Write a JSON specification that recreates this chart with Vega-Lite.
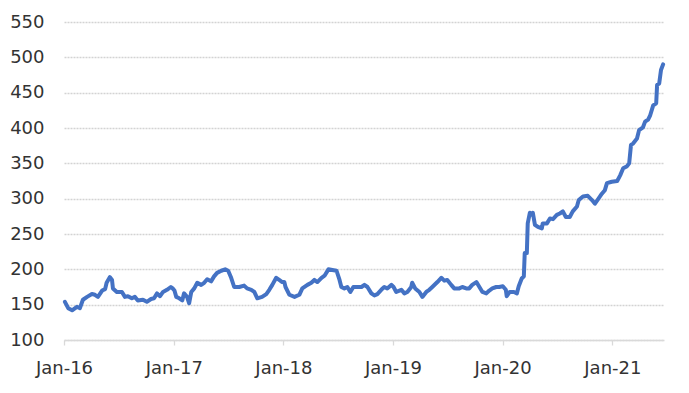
{
  "$schema": "https://vega.github.io/schema/vega-lite/v6.json",
  "width": 600,
  "height": 318,
  "autosize": {"type": "none"},
  "padding": {"left": 64, "top": 22, "right": 25, "bottom": 53},
  "background": "white",
  "config": {"view": {"stroke": null}},
  "data": {"values": [
    {"date": "2016-01-04", "v": 154}, {"date": "2016-01-15", "v": 145}, {"date": "2016-01-28", "v": 142}, {"date": "2016-02-13", "v": 147},
    {"date": "2016-02-23", "v": 145}, {"date": "2016-03-04", "v": 157}, {"date": "2016-03-18", "v": 161}, {"date": "2016-04-03", "v": 165},
    {"date": "2016-04-13", "v": 164}, {"date": "2016-04-23", "v": 161}, {"date": "2016-05-07", "v": 170}, {"date": "2016-05-17", "v": 172},
    {"date": "2016-05-22", "v": 181}, {"date": "2016-06-02", "v": 189}, {"date": "2016-06-09", "v": 185}, {"date": "2016-06-12", "v": 173},
    {"date": "2016-06-25", "v": 168}, {"date": "2016-07-12", "v": 168}, {"date": "2016-07-22", "v": 161}, {"date": "2016-08-01", "v": 162},
    {"date": "2016-08-14", "v": 159}, {"date": "2016-08-24", "v": 161}, {"date": "2016-09-03", "v": 156}, {"date": "2016-09-20", "v": 157},
    {"date": "2016-10-03", "v": 154}, {"date": "2016-10-17", "v": 158}, {"date": "2016-10-27", "v": 159}, {"date": "2016-11-06", "v": 166},
    {"date": "2016-11-16", "v": 162}, {"date": "2016-11-26", "v": 168}, {"date": "2016-12-09", "v": 171}, {"date": "2016-12-22", "v": 175},
    {"date": "2016-12-28", "v": 173}, {"date": "2017-01-03", "v": 170}, {"date": "2017-01-09", "v": 161}, {"date": "2017-01-19", "v": 159},
    {"date": "2017-01-29", "v": 156}, {"date": "2017-02-04", "v": 166}, {"date": "2017-02-14", "v": 161}, {"date": "2017-02-21", "v": 152},
    {"date": "2017-02-28", "v": 168}, {"date": "2017-03-10", "v": 173}, {"date": "2017-03-20", "v": 181}, {"date": "2017-04-02", "v": 178},
    {"date": "2017-04-12", "v": 181}, {"date": "2017-04-22", "v": 186}, {"date": "2017-05-05", "v": 183}, {"date": "2017-05-15", "v": 190},
    {"date": "2017-05-25", "v": 195}, {"date": "2017-06-08", "v": 198}, {"date": "2017-06-21", "v": 200}, {"date": "2017-07-01", "v": 198},
    {"date": "2017-07-11", "v": 188}, {"date": "2017-07-21", "v": 175}, {"date": "2017-08-07", "v": 175}, {"date": "2017-08-23", "v": 177},
    {"date": "2017-09-02", "v": 173}, {"date": "2017-09-16", "v": 171}, {"date": "2017-09-26", "v": 168}, {"date": "2017-10-06", "v": 159},
    {"date": "2017-10-22", "v": 161}, {"date": "2017-11-05", "v": 165}, {"date": "2017-11-15", "v": 171}, {"date": "2017-11-25", "v": 178},
    {"date": "2017-12-08", "v": 188}, {"date": "2017-12-18", "v": 185}, {"date": "2017-12-28", "v": 182}, {"date": "2018-01-04", "v": 182},
    {"date": "2018-01-08", "v": 175}, {"date": "2018-01-21", "v": 164}, {"date": "2018-02-07", "v": 161}, {"date": "2018-02-23", "v": 164},
    {"date": "2018-03-05", "v": 173}, {"date": "2018-03-22", "v": 178}, {"date": "2018-04-04", "v": 181}, {"date": "2018-04-14", "v": 185},
    {"date": "2018-04-24", "v": 182}, {"date": "2018-05-08", "v": 188}, {"date": "2018-05-18", "v": 191}, {"date": "2018-05-31", "v": 200},
    {"date": "2018-06-13", "v": 199}, {"date": "2018-06-27", "v": 198}, {"date": "2018-07-07", "v": 185}, {"date": "2018-07-13", "v": 175},
    {"date": "2018-07-23", "v": 173}, {"date": "2018-08-02", "v": 175}, {"date": "2018-08-12", "v": 168}, {"date": "2018-08-22", "v": 175},
    {"date": "2018-09-04", "v": 175}, {"date": "2018-09-18", "v": 175}, {"date": "2018-09-28", "v": 178}, {"date": "2018-10-08", "v": 175},
    {"date": "2018-10-21", "v": 166}, {"date": "2018-10-31", "v": 163}, {"date": "2018-11-10", "v": 165}, {"date": "2018-11-23", "v": 171},
    {"date": "2018-12-03", "v": 175}, {"date": "2018-12-13", "v": 173}, {"date": "2018-12-27", "v": 178}, {"date": "2019-01-03", "v": 175},
    {"date": "2019-01-12", "v": 168}, {"date": "2019-01-29", "v": 171}, {"date": "2019-02-08", "v": 166}, {"date": "2019-02-18", "v": 168},
    {"date": "2019-03-03", "v": 175}, {"date": "2019-03-06", "v": 181}, {"date": "2019-03-16", "v": 173}, {"date": "2019-03-30", "v": 168},
    {"date": "2019-04-09", "v": 161}, {"date": "2019-04-22", "v": 168}, {"date": "2019-05-02", "v": 171}, {"date": "2019-05-12", "v": 175},
    {"date": "2019-05-29", "v": 182}, {"date": "2019-06-11", "v": 188}, {"date": "2019-06-21", "v": 184}, {"date": "2019-07-01", "v": 185},
    {"date": "2019-07-14", "v": 178}, {"date": "2019-07-24", "v": 173}, {"date": "2019-08-10", "v": 173}, {"date": "2019-08-20", "v": 175},
    {"date": "2019-09-02", "v": 173}, {"date": "2019-09-12", "v": 173}, {"date": "2019-09-22", "v": 178}, {"date": "2019-10-06", "v": 182},
    {"date": "2019-10-16", "v": 175}, {"date": "2019-10-26", "v": 168}, {"date": "2019-11-08", "v": 166}, {"date": "2019-11-18", "v": 170},
    {"date": "2019-11-28", "v": 173}, {"date": "2019-12-11", "v": 175}, {"date": "2019-12-21", "v": 175}, {"date": "2020-01-02", "v": 176},
    {"date": "2020-01-12", "v": 171}, {"date": "2020-01-15", "v": 162}, {"date": "2020-01-25", "v": 168}, {"date": "2020-02-08", "v": 168},
    {"date": "2020-02-18", "v": 166}, {"date": "2020-02-24", "v": 176}, {"date": "2020-03-05", "v": 187}, {"date": "2020-03-12", "v": 190},
    {"date": "2020-03-15", "v": 223}, {"date": "2020-03-22", "v": 223}, {"date": "2020-03-25", "v": 265}, {"date": "2020-04-01", "v": 280},
    {"date": "2020-04-08", "v": 277}, {"date": "2020-04-11", "v": 280}, {"date": "2020-04-18", "v": 263}, {"date": "2020-04-28", "v": 260},
    {"date": "2020-05-11", "v": 258}, {"date": "2020-05-14", "v": 265}, {"date": "2020-05-28", "v": 265}, {"date": "2020-06-07", "v": 272},
    {"date": "2020-06-17", "v": 271}, {"date": "2020-06-30", "v": 277}, {"date": "2020-07-10", "v": 279}, {"date": "2020-07-20", "v": 282},
    {"date": "2020-07-30", "v": 274}, {"date": "2020-08-12", "v": 274}, {"date": "2020-08-22", "v": 282}, {"date": "2020-09-05", "v": 289},
    {"date": "2020-09-11", "v": 298}, {"date": "2020-09-25", "v": 303}, {"date": "2020-10-11", "v": 304}, {"date": "2020-10-25", "v": 298},
    {"date": "2020-11-04", "v": 293}, {"date": "2020-11-14", "v": 299}, {"date": "2020-11-27", "v": 307}, {"date": "2020-12-07", "v": 312},
    {"date": "2020-12-14", "v": 322}, {"date": "2020-12-30", "v": 324}, {"date": "2021-01-17", "v": 325}, {"date": "2021-01-27", "v": 333},
    {"date": "2021-02-06", "v": 343}, {"date": "2021-02-19", "v": 346}, {"date": "2021-02-26", "v": 350}, {"date": "2021-03-04", "v": 376},
    {"date": "2021-03-11", "v": 378}, {"date": "2021-03-24", "v": 385}, {"date": "2021-03-31", "v": 397}, {"date": "2021-04-13", "v": 401},
    {"date": "2021-04-20", "v": 409}, {"date": "2021-04-30", "v": 412}, {"date": "2021-05-07", "v": 418}, {"date": "2021-05-17", "v": 432},
    {"date": "2021-05-27", "v": 435}, {"date": "2021-05-30", "v": 461}, {"date": "2021-06-06", "v": 463}, {"date": "2021-06-12", "v": 482},
    {"date": "2021-06-19", "v": 490}
  ]},
  "mark": {"type": "line", "color": "#4472C4", "strokeWidth": 4, "strokeJoin": "round", "strokeCap": "round", "clip": false},
  "encoding": {
    "x": {
      "field": "date", "type": "temporal",
      "scale": {"domain": ["2016-01-01", "2021-06-22"]},
      "axis": {
        "title": null,
        "values": ["2016-01-01", "2017-01-01", "2018-01-01", "2019-01-01", "2020-01-01", "2021-01-01"],
        "format": "%b-%y",
        "grid": false,
        "domain": true, "domainColor": "#D9D9D9", "domainWidth": 1.3,
        "ticks": true, "tickColor": "#D9D9D9", "tickSize": 5, "tickWidth": 1.3,
        "labelFont": "DejaVu Sans", "labelFontSize": 18, "labelColor": "#333333",
        "labelPadding": 14, "labelAlign": "center"
      }
    },
    "y": {
      "field": "v", "type": "quantitative",
      "scale": {"domain": [100, 550], "nice": false, "zero": false},
      "axis": {
        "title": null,
        "values": [100, 150, 200, 250, 300, 350, 400, 450, 500, 550],
        "grid": true, "gridColor": "#D3D3D3", "gridWidth": 1.3, "gridDash": [2, 1],
        "domain": false, "ticks": false,
        "labelFont": "DejaVu Sans", "labelFontSize": 18, "labelColor": "#333333",
        "labelPadding": 20
      }
    }
  }
}
